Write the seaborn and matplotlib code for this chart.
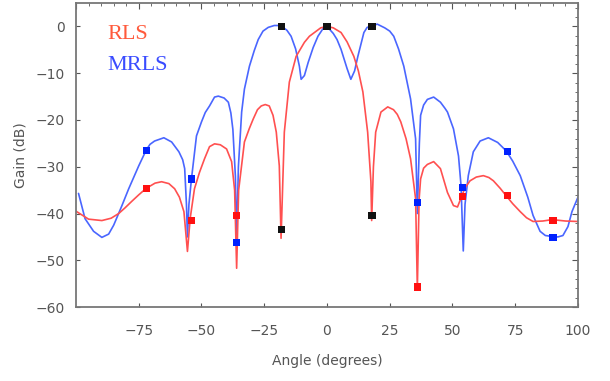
import matplotlib
matplotlib.use("Agg")
import matplotlib.pyplot as plt
from matplotlib.ticker import MultipleLocator
import pandas as pd
import seaborn as sns

# MRLS (blue) pattern
mrls_angle = [-99, -96.4, -93, -89.7, -87, -85, -83.5, -81.7, -79, -75, -72, -70.5,
              -68.7, -65, -61.9, -59, -57.5, -56.7, -56, -55.6, -55, -54, -52, -50,
              -48.5, -46.8, -44.8, -43.3, -41, -39.3, -38.3, -37.5, -36.5, -36, -35.3,
              -34, -32.9, -30.9, -29, -27.4, -25.5, -23.4, -21, -19, -18, -16, -14.3,
              -12.5, -11, -10.3, -9, -7.5, -5.5, -3.6, -1.5, 0, 2.5, 4, 5.6, 8, 9.5,
              11, 12.3, 14.7, 16, 17.5, 20, 23, 25, 26.6, 28.5, 30.6, 33.3, 35.3, 36,
              36.8, 37.3, 38.5, 40, 42.5, 45.2, 47, 48, 50.4, 52.4, 53.4, 54.3, 55,
              56.3, 58.3, 61, 64.3, 68, 71.4, 74, 77, 80, 82.1, 84.9, 87, 89.7, 92,
              94, 96, 97.6, 100]
mrls_gain = [-35.7, -41.1, -43.8, -45.1, -44.4, -42.5, -40.6, -38.3, -34.7, -29.8,
             -26.4, -25.2, -24.5, -23.8, -24.7, -26.8, -28.5, -30.4, -38, -45, -38,
             -32.6, -23.4, -20.4, -18.4, -17, -15.1, -14.9, -15.3, -16.2, -18.5, -22,
             -32, -46, -30, -18.3, -13.4, -8.5, -5.2, -2.8, -1, -0.2, 0.2, 0.2, 0,
             -0.8, -2.1, -4.8, -8.5, -11.3, -10.5, -7.7, -4.5, -2.1, -0.4, 0, -1.5,
             -2.8, -4.9, -9, -11.3, -9.5, -6.4, -1.3, -0.2, 0, 0.5, -0.3, -1, -2.1,
             -4.8, -8.5, -15.5, -24, -40, -25, -19, -16.8, -15.6, -15.1, -16.2, -17.5,
             -18.3, -21.9, -27.7, -34, -48, -38, -31.9, -26.8, -24.5, -23.8, -24.8,
             -26.6, -28.8, -31.9, -36.5, -40.4, -43.8, -44.7, -44.9, -45, -44.7,
             -42.8, -39.6, -36.5]

# RLS (red) pattern
rls_angle = [-100, -95, -89.7, -86, -83, -80.5, -77.8, -75, -72, -68.5, -65.9, -63,
             -60.7, -58.8, -57, -55.6, -54.5, -52.8, -50.8, -48.8, -46.8, -44.8, -42.5,
             -40, -38, -36.8, -36, -35.2, -32.9, -31, -29.4, -27.7, -26.2, -24.6, -23,
             -21.5, -20.2, -19, -18.3, -17, -15, -12.3, -9, -7, -5, -2.5, 0, 2.5, 5.6,
             8, 10.7, 12.5, 14.3, 16.2, 17.5, 17.8, 18.5, 19.4, 21.5, 24.2, 26.5, 28,
             29.4, 31.5, 33.3, 35.3, 36, 36.7, 37.3, 38.5, 40, 42.5, 45.2, 48, 50.4,
             52, 53.6, 55, 57, 59.5, 62.3, 64.5, 66.3, 69, 71.4, 74, 77, 79.5, 82.1,
             86, 89.7, 95, 100]
rls_gain = [-39.5, -41.2, -41.5, -41, -40, -38.8, -37.4, -36, -34.6, -33.5, -33.2,
            -33.6, -34.7, -36.5, -39.6, -48.1, -41, -34.7, -31.2, -28.3, -25.7, -25.1,
            -25.3, -26.2, -28.9, -35, -51.7, -35, -24.7, -21.9, -19.8, -17.8, -17,
            -16.7, -17, -19, -22.6, -29.8, -45.3, -22.6, -11.9, -6.4, -3.4, -2.1, -1.3,
            -0.3, 0, -0.3, -1.3, -3.3, -6.4, -9.5, -14, -22.6, -33.2, -41.5, -30,
            -22.6, -18.3, -17.2, -17.8, -18.8, -20.4, -24, -28.3, -36.8, -56, -37,
            -32.6, -30.3, -29.5, -28.9, -30.4, -35.5, -38.3, -38.6, -36.4, -34.5, -33,
            -32.2, -31.9, -32.3, -33, -34.6, -36.2, -37.9, -39.6, -40.9, -41.7, -41.6,
            -41.3, -41.6, -41.7]

# sample points
mrls_pt_angle = [-72, -54, -36, 36, 54, 72, 90]
mrls_pt_gain = [-26.5, -32.6, -46.2, -37.7, -34.5, -26.8, -45.1]
rls_pt_angle = [-72, -54, -36, 36, 54, 72, 90]
rls_pt_gain = [-34.7, -41.5, -40.4, -55.7, -36.4, -36.2, -41.5]
black_pt_angle = [-18, 0, 18, -18, 18]
black_pt_gain = [0, 0, 0, -43.4, -40.4]

y_ticks = [0, -10, -20, -30, -40, -50, -60]
y_labels = ["0", "\u221210", "\u221220", "\u221230", "\u221240", "\u221250", "\u221260"]
x_ticks = [-75, -50, -25, 0, 25, 50, 75, 100]
x_labels = ["\u221275", "\u221250", "\u221225", "0", "25", "50", "75", "100"]

RED_LINE = "#ff5050"
BLUE_LINE = "#4a66ff"

mrls = pd.DataFrame({"angle": mrls_angle, "gain": mrls_gain})
rls = pd.DataFrame({"angle": rls_angle, "gain": rls_gain})

sns.set_style("ticks")
fig = plt.figure(figsize=(6.1, 3.81), dpi=100)
ax = fig.add_axes([0.1246, 0.194, 0.8229, 0.798])

sns.lineplot(data=mrls, x="angle", y="gain", ax=ax, color=BLUE_LINE, lw=1.2,
             sort=False, estimator=None)
sns.lineplot(data=rls, x="angle", y="gain", ax=ax, color=RED_LINE, lw=1.2,
             sort=False, estimator=None)

sns.scatterplot(x=mrls_pt_angle, y=mrls_pt_gain, ax=ax, color="#0022ff", marker="s",
                s=28, edgecolor="none", zorder=5)
sns.scatterplot(x=rls_pt_angle, y=rls_pt_gain, ax=ax, color="#ff1010", marker="s",
                s=28, edgecolor="none", zorder=5)
sns.scatterplot(x=black_pt_angle, y=black_pt_gain, ax=ax, color="#111111", marker="s",
                s=28, edgecolor="none", zorder=6)

ax.set_xlim(-100, 100)
ax.set_ylim(-60, 5)

ax.set_xticks(x_ticks)
ax.set_xticklabels(x_labels)
ax.set_yticks(y_ticks)
ax.set_yticklabels(y_labels)
ax.tick_params(direction="in", length=3, color="#555555", labelcolor="#555555",
               labelsize=10)
ax.tick_params(axis="x", pad=12)
ax.tick_params(axis="y", pad=8)

# frame ticks on top and right, with minor ticks
top = ax.secondary_xaxis("top")
top.xaxis.set_major_locator(MultipleLocator(25))
top.xaxis.set_minor_locator(MultipleLocator(5))
top.tick_params(which="both", direction="in", labeltop=False, color="#555555")
top.tick_params(which="major", length=4)
top.tick_params(which="minor", length=2)
right = ax.secondary_yaxis("right")
right.yaxis.set_major_locator(MultipleLocator(10))
right.yaxis.set_minor_locator(MultipleLocator(2))
right.tick_params(which="both", direction="in", labelright=False, color="#555555")
right.tick_params(which="major", length=4)
right.tick_params(which="minor", length=2)
for sp in right.spines.values():
    sp.set_visible(False)
for sp in top.spines.values():
    sp.set_visible(False)

for sp in ax.spines.values():
    sp.set_color("#777777")
    sp.set_linewidth(1.3)

ax.set_xlabel("Angle (degrees)", fontsize=10, color="#555555", labelpad=12)
ax.set_ylabel("Gain (dB)", fontsize=10, color="#555555", labelpad=6)

ax.text(-87.5, -2.6, "RLS", color="#ff5a3c", fontsize=16, family="Liberation Serif")
ax.text(-87.5, -9.3, "MRLS", color="#3a4cff", fontsize=16, family="Liberation Serif")

fig.savefig("out.png", dpi=100)
